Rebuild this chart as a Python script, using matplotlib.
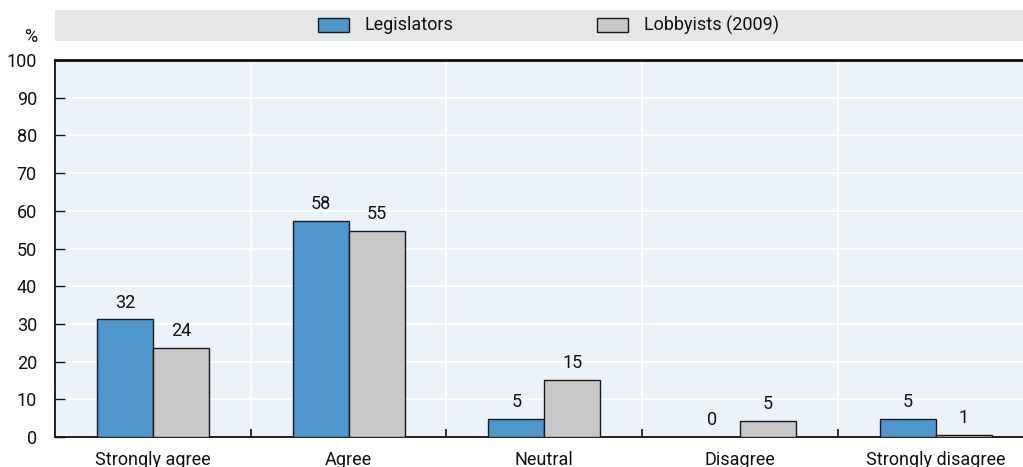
import matplotlib
matplotlib.use("Agg")
import matplotlib.pyplot as plt
from matplotlib.patches import Rectangle
import numpy as np

plt.rcParams['font.family'] = ['Roboto', 'DejaVu Sans']

categories = ["Strongly agree", "Agree", "Neutral", "Disagree", "Strongly disagree"]
series_names = ["Legislators", "Lobbyists (2009)"]
legislators = [31.2, 57.4, 4.8, 0.0, 4.8]
lobbyists = [23.6, 54.7, 15.2, 4.3, 0.6]
legislators_labels = ["32", "58", "5", "0", "5"]
lobbyists_labels = ["24", "55", "15", "5", "1"]
yticks = [0, 10, 20, 30, 40, 50, 60, 70, 80, 90, 100]

BLUE = "#4F96CC"
GRAY = "#C8C8CA"
EDGE = "#1a1a1a"
AXBG = "#EBF2F9"
BAND = "#E5E6E8"
TXT = "#111111"
FS = 13

W, H = 1023, 467
fig = plt.figure(figsize=(W / 100, H / 100), dpi=100)

left, right = 55, 1033.5
bottom, top = 437, 60
ax = fig.add_axes([left / W, (H - bottom) / H, (right - left) / W, (bottom - top) / H])
ax.set_facecolor(AXBG)

x = np.arange(len(categories))
bw = 0.286
b1 = ax.bar(x - bw / 2, legislators, bw, color=BLUE, edgecolor=EDGE, linewidth=1.0, zorder=3)
b2 = ax.bar(x + bw / 2, lobbyists, bw, color=GRAY, edgecolor=EDGE, linewidth=1.0, zorder=3)

for bars, labels in ((b1, legislators_labels), (b2, lobbyists_labels)):
    for rect, lab in zip(bars, labels):
        ax.annotate(lab, (rect.get_x() + rect.get_width() / 2, rect.get_height()),
                    xytext=(0, 5.5), textcoords="offset points", ha="center", va="bottom",
                    fontsize=FS, color=TXT)

ax.set_xlim(-0.5, len(categories) - 0.5)
ax.set_ylim(0, 100)

ax.set_yticks(yticks)
ax.set_yticklabels([str(v) for v in yticks], fontsize=FS, color=TXT)
for v in yticks[1:-1]:
    ax.axhline(v, color="white", linewidth=1.5, zorder=1)
bounds = np.arange(len(categories) - 1) + 0.5
for b in bounds:
    ax.axvline(b, color="white", linewidth=1.5, zorder=1)

ax.set_xticks(x)
ax.set_xticklabels(categories, fontsize=FS, color=TXT)
ax.tick_params(axis="x", which="major", length=0, pad=10)
ax.set_xticks(bounds, minor=True)
ax.tick_params(axis="x", which="minor", direction="in", length=6, width=1.2, color=TXT)
ax.tick_params(axis="y", direction="in", length=7, width=1.0, color=TXT, pad=13)

for s in ("left", "bottom"):
    ax.spines[s].set_color(TXT)
    ax.spines[s].set_linewidth(1.3)
ax.spines["top"].set_color(TXT)
ax.spines["top"].set_linewidth(2.0)
ax.spines["right"].set_visible(False)

fig.text(37 / W, (H - 37) / H, "%", ha="right", va="center", fontsize=FS, color=TXT)

# legend band
band = fig.add_axes([55 / W, (H - 41) / H, (W - 55) / W, 31 / H])
band.set_xlim(55, W)
band.set_ylim(41, 10)
band.set_facecolor(BAND)
for s in band.spines.values():
    s.set_visible(False)
band.set_xticks([])
band.set_yticks([])
band.add_patch(Rectangle((318, 18), 31, 14, facecolor=BLUE, edgecolor=EDGE, linewidth=1.0))
band.text(365, 25.5, series_names[0], ha="left", va="center", fontsize=FS, color=TXT)
band.add_patch(Rectangle((597, 18), 31, 14, facecolor=GRAY, edgecolor=EDGE, linewidth=1.0))
band.text(644, 25.5, series_names[1], ha="left", va="center", fontsize=FS, color=TXT)

fig.savefig("out.png", dpi=100)
